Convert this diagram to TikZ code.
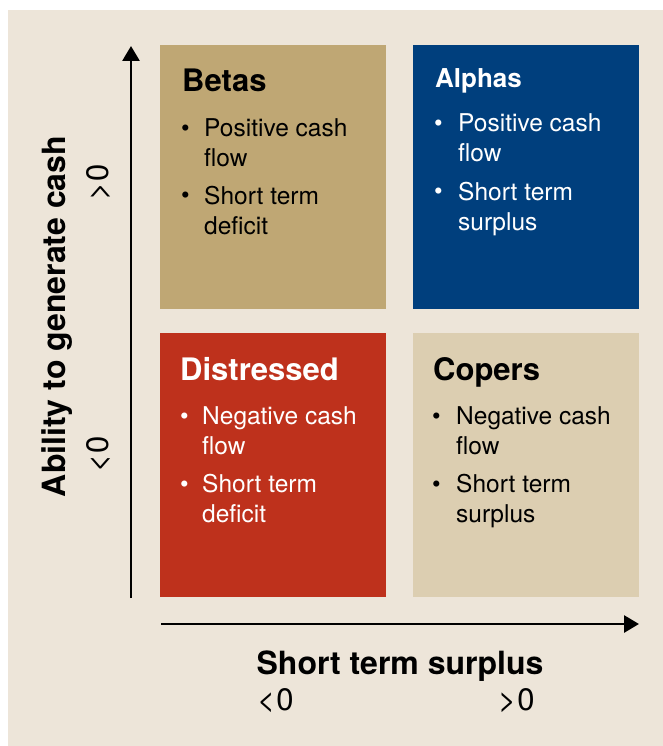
\documentclass[tikz,border=0pt]{standalone}
\usepackage{fontspec}
\setmainfont{TeX Gyre Heros}
\usetikzlibrary{arrows.meta}

\definecolor{paper}{HTML}{EDE5D9}
\definecolor{betatan}{HTML}{BFA774}
\definecolor{alphablue}{HTML}{003F7D}
\definecolor{distressred}{HTML}{BE311C}
\definecolor{copersand}{HTML}{DCCEB1}

\tikzset{
  quadrant/.style={anchor=north west, minimum width=226pt, minimum height=264pt, inner sep=0pt},
  boxtitle/.style={anchor=base west, inner sep=0pt, font=\bfseries\fontsize{31}{31}\selectfont},
  bulletdot/.style={anchor=base west, inner sep=0pt, font=\fontsize{24.5}{30}\selectfont},
  % two-line items, placed by the baseline of their last line
  bulletline/.style={anchor=base west, inner sep=0pt, align=left, font=\fontsize{24.5}{30}\selectfont},
  axis/.style={line width=2.8pt, -{Triangle[length=15pt,width=17pt]}},
  axislabel/.style={inner sep=0pt, font=\bfseries\fontsize{32}{32}\selectfont},
  sign/.style={inner sep=0pt, font=\fontsize{31}{31}\selectfont}
}

\begin{document}
\begin{tikzpicture}[x=1pt,y=-1pt]
	\useasboundingbox (0,0) rectangle (663,746);
	\fill[paper] (8,10) rectangle (663,746);

	% the four quadrants
	\node[quadrant, fill=betatan] (betas) at (160,45) {};
	\node[quadrant, fill=alphablue] (alphas) at (413,45) {};
	\node[quadrant, fill=distressred] (distressed) at (160,333) {};
	\node[quadrant, fill=copersand] (copers) at (413,333) {};

	% top left
	\node[boxtitle] (betas-t) at (182,92) {Betas};
	\node[bulletdot] (betas-d1) at (181,137) {\textbullet};
	\node[bulletline] (betas-i1) at (204,167) {Positive cash\\flow};
	\node[bulletdot] (betas-d2) at (181,204) {\textbullet};
	\node[bulletline] (betas-i2) at (204,234) {Short term\\deficit};

	% top right
	\node[boxtitle, white, font=\bfseries\fontsize{26}{26}\selectfont] (alphas-t) at (435,88) {Alphas};
	\node[bulletdot, white] (alphas-d1) at (434,132) {\textbullet};
	\node[bulletline, white] (alphas-i1) at (458,162) {Positive cash\\flow};
	\node[bulletdot, white] (alphas-d2) at (434,200) {\textbullet};
	\node[bulletline, white] (alphas-i2) at (458,230) {Short term\\surplus};

	% bottom left
	\node[boxtitle, white] (distressed-t) at (180,380) {Distressed};
	\node[bulletdot, white] (distressed-d1) at (180,424) {\textbullet};
	\node[bulletline, white] (distressed-i1) at (202,454) {Negative cash\\flow};
	\node[bulletdot, white] (distressed-d2) at (180,492) {\textbullet};
	\node[bulletline, white] (distressed-i2) at (202,522) {Short term\\deficit};

	% bottom right
	\node[boxtitle] (copers-t) at (433,380) {Copers};
	\node[bulletdot] (copers-d1) at (432,424) {\textbullet};
	\node[bulletline] (copers-i1) at (456,454) {Negative cash\\flow};
	\node[bulletdot] (copers-d2) at (432,492) {\textbullet};
	\node[bulletline] (copers-i2) at (456,522) {Short term\\surplus};

	% axes
	\coordinate (origin-y) at (131,598);
	\coordinate (top-y) at (131,46);
	\coordinate (origin-x) at (161,624);
	\coordinate (end-x) at (639,624);
	\draw[axis] (origin-y) -- (top-y);
	\draw[axis] (origin-x) -- (end-x);

	\node[axislabel, anchor=base] (xlabel) at (400,674) {Short term surplus};
	\node[sign, anchor=base west] (xneg) at (257,710.5) {<\kern1pt0};
	\node[sign, anchor=base west] (xpos) at (498,710.5) {>\kern1pt0};

	\node[axislabel, rotate=90, anchor=base] (ylabel) at (65,316.5) {Ability to generate cash};
	\node[sign, rotate=90, anchor=base] (ypos) at (108,182.5) {>\kern1pt0};
	\node[sign, rotate=90, anchor=base] (yneg) at (108,454) {<\kern1pt0};
\end{tikzpicture}
\end{document}
